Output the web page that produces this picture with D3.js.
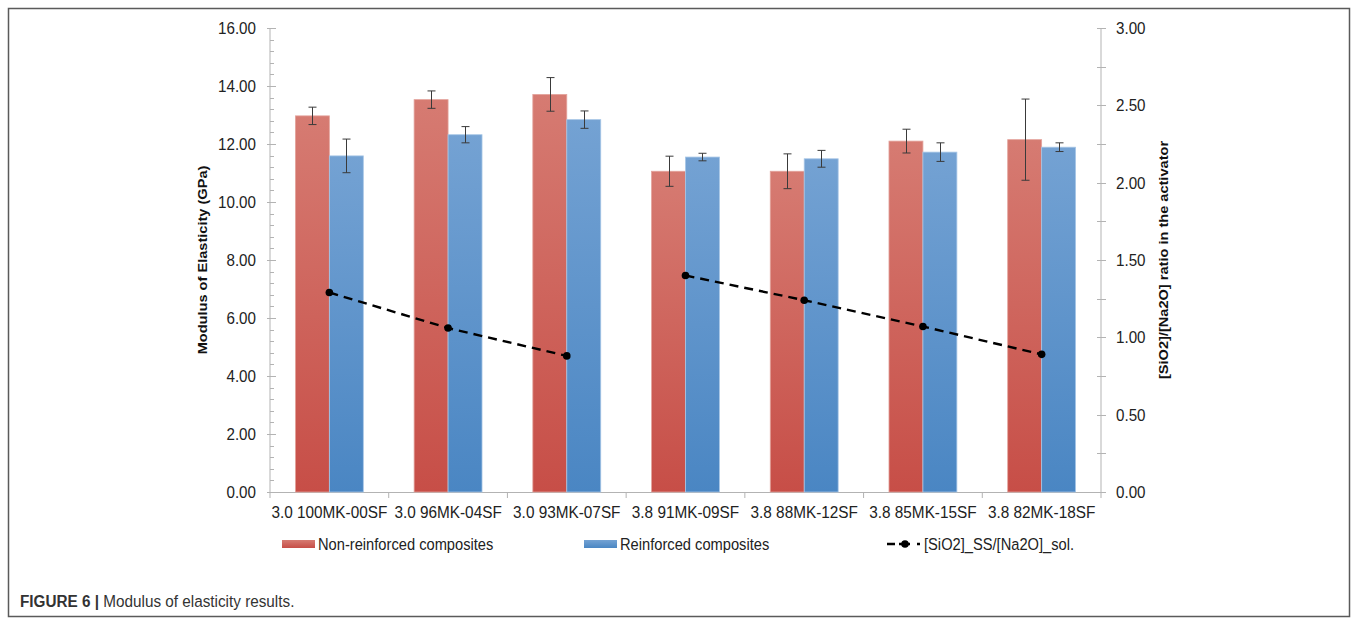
<!DOCTYPE html>
<html>
<head>
<meta charset="utf-8">
<script src="https://cdn.jsdelivr.net/npm/d3@7"></script>
<style>
  html, body { margin: 0; padding: 0; background: #fff; }
  svg { display: block; font-family: "Liberation Sans", Arial, sans-serif; }
</style>
</head>
<body>
<svg id="chart" width="1358" height="619"></svg>
<script>
// Mix designs (activator modulus + MK/SF proportions)
const categories = [
  "3.0 100MK-00SF", "3.0 96MK-04SF", "3.0 93MK-07SF",
  "3.8 91MK-09SF", "3.8 88MK-12SF", "3.8 85MK-15SF", "3.8 82MK-18SF"
];
// Modulus of elasticity (GPa) and standard deviation
const nonReinforced    = [12.97, 13.53, 13.71, 11.06, 11.06, 12.10, 12.15];
const nonReinforcedErr = [0.30, 0.30, 0.58, 0.52, 0.60, 0.41, 1.40];
const reinforced       = [11.59, 12.32, 12.84, 11.55, 11.49, 11.72, 11.89];
const reinforcedErr    = [0.58, 0.28, 0.30, 0.13, 0.29, 0.32, 0.15];
// [SiO2]_SS/[Na2O]_sol. ratio (secondary axis)
const ratio = [1.29, 1.06, 0.88, 1.40, 1.24, 1.07, 0.89];

const leftTicks  = [0, 2, 4, 6, 8, 10, 12, 14, 16];
const rightTicks = [0, 0.5, 1, 1.5, 2, 2.5, 3];

const seriesNames = ["Non-reinforced composites", "Reinforced composites", "[SiO2]_SS/[Na2O]_sol."];

const svg = d3.select("#chart");
const plot = { left: 270, right: 1101, top: 28, bottom: 492 };

// Figure frame
svg.append("rect").attr("x", 8.5).attr("y", 8.5).attr("width", 1341).attr("height", 608)
  .attr("fill", "none").attr("stroke", "#5a5a5a").attr("stroke-width", 1.5);

// Text helper: slightly condensed glyphs
function label(parent, x, y, str, opts = {}) {
  const g = parent.append("g")
    .attr("transform", `translate(${x},${y}) scale(${opts.sx || 0.92},1)`);
  return g.append("text")
    .attr("text-anchor", opts.anchor || "start")
    .attr("dy", "0.36em")
    .attr("font-size", opts.size || 16.5)
    .attr("font-weight", opts.weight || "normal")
    .attr("fill", opts.fill || "#222")
    .text(str);
}

const defs = svg.append("defs");
function grad(id, top, bottom) {
  const g = defs.append("linearGradient").attr("id", id)
    .attr("x1", 0).attr("y1", 0).attr("x2", 0).attr("y2", 1);
  g.append("stop").attr("offset", "0%").attr("stop-color", top);
  g.append("stop").attr("offset", "100%").attr("stop-color", bottom);
}
grad("gRed", "#d67b72", "#c74e47");
grad("gBlue", "#74a2d3", "#4a86c3");

const x = d3.scaleBand().domain(categories).range([plot.left, plot.right])
  .paddingInner(0.428).paddingOuter(0.214);
const xSub = d3.scaleBand().domain([0, 1]).range([0, x.bandwidth()]);
const y = d3.scaleLinear().domain([0, 16]).range([plot.bottom, plot.top]);
const y2 = d3.scaleLinear().domain([0, 3]).range([plot.bottom, plot.top]);

const axisColor = "#b3b3b3";

// Left axis: minor ticks every 0.4, major every 2
const gL = svg.append("g");
gL.append("line").attr("x1", plot.left).attr("x2", plot.left)
  .attr("y1", plot.top).attr("y2", plot.bottom).attr("stroke", axisColor);
gL.selectAll(".minor").data(d3.range(0, 16.01, 0.4)).join("line")
  .attr("x1", plot.left).attr("x2", plot.left + 4)
  .attr("y1", d => Math.round(y(d)) + 0.5).attr("y2", d => Math.round(y(d)) + 0.5)
  .attr("stroke", axisColor);
gL.selectAll(".major").data(leftTicks).join("line")
  .attr("x1", plot.left - 3).attr("x2", plot.left + 6)
  .attr("y1", d => Math.round(y(d)) + 0.5).attr("y2", d => Math.round(y(d)) + 0.5)
  .attr("stroke", axisColor);
leftTicks.forEach(d => label(gL, plot.left - 14, y(d), d3.format(".2f")(d), { anchor: "end" }));

// Right axis: minor ticks every 0.25, major every 0.5
const gR = svg.append("g");
gR.append("line").attr("x1", plot.right).attr("x2", plot.right)
  .attr("y1", plot.top).attr("y2", plot.bottom).attr("stroke", axisColor);
gR.selectAll(".tk").data(d3.range(0, 3.01, 0.25)).join("line")
  .attr("x1", plot.right - 4).attr("x2", plot.right + 5)
  .attr("y1", d => Math.round(y2(d)) + 0.5).attr("y2", d => Math.round(y2(d)) + 0.5)
  .attr("stroke", axisColor);
rightTicks.forEach(d => label(gR, plot.right + 15, y2(d), d3.format(".2f")(d)));

// Category axis
const gX = svg.append("g");
gX.append("line").attr("x1", plot.left).attr("x2", plot.right)
  .attr("y1", plot.bottom + 0.5).attr("y2", plot.bottom + 0.5).attr("stroke", axisColor);
const boundaries = categories.map(c => x(c) - x.step() * x.paddingInner() / 2).concat([plot.right]);
gX.selectAll(".tk").data(boundaries).join("line")
  .attr("x1", d => d).attr("x2", d => d)
  .attr("y1", plot.bottom).attr("y2", plot.bottom + 6).attr("stroke", axisColor);
categories.forEach(c => label(gX, x(c) + x.bandwidth() / 2, plot.bottom + 20, c, { anchor: "middle", sx: 0.93 }));

// Axis titles
svg.append("text")
  .attr("transform", `translate(207,${(plot.top + plot.bottom) / 2}) rotate(-90) scale(1.08,1)`)
  .attr("text-anchor", "middle").attr("font-size", 13.5).attr("font-weight", "bold").attr("fill", "#111")
  .text("Modulus of Elasticity (GPa)");
svg.append("text")
  .attr("transform", `translate(1168,${(plot.top + plot.bottom) / 2}) rotate(-90) scale(1.08,1)`)
  .attr("text-anchor", "middle").attr("font-size", 13.5).attr("font-weight", "bold").attr("fill", "#111")
  .text("[SiO2]/[Na2O] ratio in the activator");

// Bars
const barSets = [
  { vals: nonReinforced, errs: nonReinforcedErr, fill: "url(#gRed)", stroke: "#e3a39c" },
  { vals: reinforced, errs: reinforcedErr, fill: "url(#gBlue)", stroke: "#a7c6e6" }
];
barSets.forEach((s, i) => {
  const g = svg.append("g");
  g.selectAll("rect").data(categories).join("rect")
    .attr("x", (c) => x(c) + xSub(i))
    .attr("y", (c, j) => y(s.vals[j]))
    .attr("width", xSub.bandwidth())
    .attr("height", (c, j) => y(0) - y(s.vals[j]))
    .attr("fill", s.fill).attr("stroke", s.stroke).attr("stroke-width", 0.8);
});

// Error bars
barSets.forEach((s, i) => {
  const g = svg.append("g").attr("stroke", "#3a3a3a").attr("stroke-width", 1);
  categories.forEach((c, j) => {
    const cx = Math.round(x(c) + xSub(i) + xSub.bandwidth() / 2) + 0.5;
    const hi = y(s.vals[j] + s.errs[j]), lo = y(s.vals[j] - s.errs[j]);
    g.append("line").attr("x1", cx).attr("x2", cx).attr("y1", hi).attr("y2", lo);
    g.append("line").attr("x1", cx - 4).attr("x2", cx + 4).attr("y1", hi).attr("y2", hi);
    g.append("line").attr("x1", cx - 4).attr("x2", cx + 4).attr("y1", lo).attr("y2", lo);
  });
});

// Ratio lines (one segment per activator modulus group)
const groups = [[0, 1, 2], [3, 4, 5, 6]];
const px = i => x(categories[i]) + x.bandwidth() / 2;
const line = d3.line().x(i => px(i)).y(i => y2(ratio[i]));
groups.forEach(gr => {
  svg.append("path").attr("d", line(gr))
    .attr("fill", "none").attr("stroke", "#000").attr("stroke-width", 2.4)
    .attr("stroke-dasharray", "9,6");
});
svg.append("g").selectAll("circle").data(ratio).join("circle")
  .attr("cx", (d, i) => px(i)).attr("cy", d => y2(d)).attr("r", 3.8).attr("fill", "#000");

// Legend
const lg = svg.append("g");
const legY = 544;
lg.append("rect").attr("x", 282).attr("y", legY - 4).attr("width", 33).attr("height", 8).attr("fill", "url(#gRed)");
label(lg, 318, legY, seriesNames[0], { sx: 0.89 });
lg.append("rect").attr("x", 584).attr("y", legY - 4).attr("width", 33).attr("height", 8).attr("fill", "url(#gBlue)");
label(lg, 620, legY, seriesNames[1], { sx: 0.89 });
lg.append("line").attr("x1", 887).attr("x2", 920).attr("y1", legY).attr("y2", legY)
  .attr("stroke", "#000").attr("stroke-width", 2.4).attr("stroke-dasharray", "8,4,11,7,3");
lg.append("circle").attr("cx", 905).attr("cy", legY).attr("r", 3.8).attr("fill", "#000");
label(lg, 924, legY, seriesNames[2], { sx: 0.89 });

// Caption
const capG = svg.append("g").attr("transform", "translate(20,601) scale(0.9,1)");
const cap = capG.append("text").attr("dy", "0.36em").attr("font-size", 17).attr("fill", "#333");
cap.append("tspan").attr("font-weight", "bold").text("FIGURE 6 | ");
cap.append("tspan").text("Modulus of elasticity results.");
</script>
</body>
</html>
